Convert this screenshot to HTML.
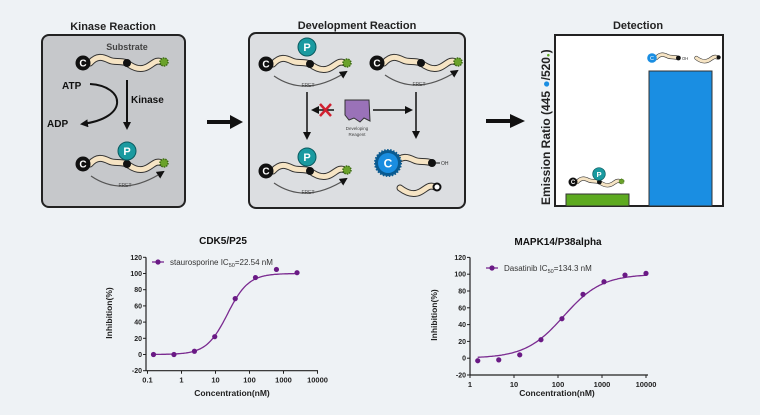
<!DOCTYPE html>
<html><head><meta charset="utf-8"><style>
html,body{margin:0;padding:0;background:#eef2f5;}
svg{display:block;font-family:"Liberation Sans",sans-serif;}
</style></head><body>
<svg id="s" width="760" height="415" viewBox="0 0 760 415" xmlns="http://www.w3.org/2000/svg">
<defs>
<marker id="ah" markerWidth="8" markerHeight="8" refX="6" refY="4" orient="auto" markerUnits="userSpaceOnUse"><path d="M0,0 L8,4 L0,8 Z" fill="#111"/></marker>
<g id="chainA">
<path d="M7,0 C14,-8 20,-6 26,-3 C32,0 36,-3 44,0" fill="none" stroke="#333" stroke-width="7" stroke-linecap="round"/>
<path d="M7,0 C14,-8 20,-6 26,-3 C32,0 36,-3 44,0" fill="none" stroke="#f6e4c4" stroke-width="5" stroke-linecap="round"/>
</g>
<g id="chainB">
<path d="M44,0 C52,6 58,7 64,4 C70,1 73,-4 79,-1" fill="none" stroke="#333" stroke-width="7" stroke-linecap="round"/>
<path d="M44,0 C52,6 58,7 64,4 C70,1 73,-4 79,-1" fill="none" stroke="#f6e4c4" stroke-width="5" stroke-linecap="round"/>
</g>
<g id="mol">
<use href="#chainA"/><use href="#chainB"/>
<circle cx="44" cy="0" r="4" fill="#111"/>
<circle cx="81" cy="-1" r="4" fill="#6aa22a" stroke="#3c6a12" stroke-width="1.5" stroke-dasharray="1.5 1"/>
<circle cx="0" cy="0" r="7.5" fill="#111"/>
<text x="0" y="3.5" font-size="10" font-weight="bold" fill="#fff" text-anchor="middle">C</text>
</g>
<g id="fret">
<path d="M8,12 Q40,34 80,8" fill="none" stroke="#555" stroke-width="1.2" marker-end="url(#ah)"/>
<text x="42" y="23" font-size="5" fill="#444" text-anchor="middle">FRET</text>
</g>
<g id="P"><circle r="9" fill="#1a9aa0" stroke="#0b5b60" stroke-width="1"/><text y="4" font-size="11" font-weight="bold" fill="#fff" text-anchor="middle">P</text></g>
</defs>

<text x="113" y="30" font-size="11" font-weight="bold" text-anchor="middle" fill="#222">Kinase Reaction</text>
<rect x="42" y="35" width="143" height="172" rx="7" fill="#c6c8cb" stroke="#222" stroke-width="2"/>
<text x="127" y="50" font-size="9" font-weight="bold" text-anchor="middle" fill="#444">Substrate</text>
<use href="#mol" x="83" y="63"/>
<text x="62" y="89" font-size="10" font-weight="bold" fill="#111">ATP</text>
<text x="47" y="127" font-size="10" font-weight="bold" fill="#111">ADP</text>
<path d="M90,84 C125,86 130,118 82,124" fill="none" stroke="#111" stroke-width="2" marker-end="url(#ah)"/>
<line x1="127" y1="80" x2="127" y2="128" stroke="#111" stroke-width="2" marker-end="url(#ah)"/>
<text x="131" y="103" font-size="10" font-weight="bold" fill="#111">Kinase</text>
<use href="#mol" x="83" y="164"/>
<use href="#fret" x="83" y="164"/>
<use href="#P" x="127" y="151"/>

<path d="M207,122 L232,122" stroke="#111" stroke-width="4"/><path d="M230,115 L243,122 L230,129Z" fill="#111"/>

<text x="357" y="29" font-size="11" font-weight="bold" text-anchor="middle" fill="#222">Development Reaction</text>
<rect x="249" y="33" width="216" height="175" rx="7" fill="#dcdee1" stroke="#222" stroke-width="2"/>
<use href="#mol" x="266" y="64"/><use href="#fret" x="266" y="64"/><use href="#P" x="307" y="47"/>
<use href="#mol" x="377" y="63"/><use href="#fret" x="377" y="63"/>
<line x1="307" y1="92" x2="307" y2="138" stroke="#111" stroke-width="1.5" marker-end="url(#ah)"/>
<line x1="416" y1="92" x2="416" y2="137" stroke="#111" stroke-width="1.5" marker-end="url(#ah)"/>
<line x1="334" y1="110" x2="313" y2="110" stroke="#111" stroke-width="1.5" marker-end="url(#ah)"/>
<path d="M320,104 L331,116 M331,104 L320,116" stroke="#d02030" stroke-width="2.5"/>
<path d="M345,100 L369,100 L370,121 L364,118 L360,122 L354,118 L349,120 L345,115Z" fill="#9a72b8" stroke="#333" stroke-width="1"/>
<text x="357" y="130" font-size="4.5" fill="#444" text-anchor="middle">Developing</text>
<text x="357" y="136" font-size="4.5" fill="#444" text-anchor="middle">Reagent</text>
<line x1="373" y1="110" x2="411" y2="110" stroke="#111" stroke-width="1.5" marker-end="url(#ah)"/>
<use href="#mol" x="266" y="171"/><use href="#fret" x="266" y="171"/><use href="#P" x="307" y="157"/>
<g transform="translate(388,163)">
<use href="#chainA"/>
<circle cx="44" cy="0" r="4" fill="#111"/><line x1="44" y1="0" x2="52" y2="0" stroke="#111"/>
<text x="53" y="2" font-size="5" fill="#333">OH</text>
<circle r="13" fill="#0a5a90" stroke="#0a5a90" stroke-width="2" stroke-dasharray="1.5 1.5"/>
<circle r="10" fill="#1a8de0"/>
<text y="4.5" font-size="12" font-weight="bold" fill="#fff" text-anchor="middle">C</text>
</g>
<g transform="translate(356,188)"><use href="#chainB"/><circle cx="81" cy="-1" r="3.5" fill="#fff" stroke="#111" stroke-width="2"/></g>

<path d="M486,121 L512,121" stroke="#111" stroke-width="4"/><path d="M510,114 L525,121 L510,128Z" fill="#111"/>

<text x="638" y="29" font-size="11" font-weight="bold" text-anchor="middle" fill="#222">Detection</text>
<rect x="555" y="35" width="168" height="171" fill="#fff" stroke="#222" stroke-width="2"/>
<rect x="566" y="194" width="63" height="12" fill="#5daa20" stroke="#333" stroke-width="1"/>
<rect x="649" y="71" width="63" height="135" fill="#1a8ee2" stroke="#333" stroke-width="1"/>
<text transform="translate(550,205) rotate(-90)" font-size="12" font-weight="bold" fill="#222">Emission Ratio (445 <tspan fill="#1a8ee2">●</tspan>/520<tspan fill="#5daa20" font-size="6">●</tspan>)</text>
<g transform="translate(573,182) scale(0.6)"><use href="#mol"/></g>
<g transform="translate(599,174) scale(0.7)"><use href="#P"/></g>
<g transform="translate(652,58) scale(0.6)">
<use href="#chainA"/><circle cx="44" cy="0" r="4" fill="#111"/><text x="50" y="3" font-size="7" fill="#333">OH</text>
<circle r="8" fill="#1a8ee2"/><text y="3.5" font-size="9" fill="#fff" text-anchor="middle">C</text>
<g transform="translate(30,0)"><use href="#chainB"/><circle cx="81" cy="-1" r="3.5" fill="#111"/></g>
</g>

<g id="c1"></g><g id="c2"></g>
</svg>
<script>
function chart(id,o){
 var g=document.getElementById(id),h='';
 var X=function(c){return o.x0+(Math.log10(c)-o.l0)*o.dec;},Y=function(v){return o.y0-v/20*o.per;};
 h+='<text x="'+o.tx+'" y="'+o.ty+'" font-size="10" font-weight="bold" text-anchor="middle" fill="#111">'+o.title+'</text>';
 var yb=Y(-20),yt=Y(120);
 h+='<line x1="'+o.ax+'" y1="'+yt+'" x2="'+o.ax+'" y2="'+yb+'" stroke="#222" stroke-width="1.2"/>';
 h+='<line x1="'+o.ax+'" y1="'+yb+'" x2="'+o.xe+'" y2="'+yb+'" stroke="#222" stroke-width="1.2"/>';
 for(var v=-20;v<=120;v+=20){var y=Y(v);h+='<line x1="'+(o.ax-3)+'" y1="'+y+'" x2="'+o.ax+'" y2="'+y+'" stroke="#222"/><text x="'+(o.ax-4)+'" y="'+(y+2.5)+'" font-size="7" font-weight="bold" text-anchor="end" fill="#222">'+v+'</text>';}
 o.xt.forEach(function(t){var x=X(t[0]);h+='<line x1="'+x+'" y1="'+yb+'" x2="'+x+'" y2="'+(yb+3)+'" stroke="#222"/><text x="'+x+'" y="'+(yb+12)+'" font-size="7.5" font-weight="bold" text-anchor="middle" fill="#222">'+t[1]+'</text>';});
 h+='<text x="'+o.xlx+'" y="'+o.xly+'" font-size="8.5" font-weight="bold" text-anchor="middle" fill="#222">Concentration(nM)</text>';
 h+='<text transform="translate('+o.ylx+','+o.yly+') rotate(-90)" font-size="8.5" font-weight="bold" text-anchor="middle" fill="#222">Inhibition(%)</text>';
 var p='';for(var i=0;i<=120;i++){var l=o.c0+(o.c1-o.c0)*i/120,c=Math.pow(10,l);var v=o.b+(100-o.b)/(1+Math.pow(o.ic/c,o.n));p+=(i?'L':'M')+X(c).toFixed(1)+','+Y(v).toFixed(1);}
 h+='<path d="'+p+'" fill="none" stroke="#7a2a90" stroke-width="1.3"/>';
 o.pts.forEach(function(q){h+='<circle cx="'+X(q[0])+'" cy="'+Y(q[1])+'" r="2.6" fill="#6a1a85"/>';});
 h+='<line x1="'+(o.lx-6)+'" y1="'+o.ly+'" x2="'+(o.lx+6)+'" y2="'+o.ly+'" stroke="#7a2a90" stroke-width="1.3"/><circle cx="'+o.lx+'" cy="'+o.ly+'" r="2.6" fill="#6a1a85"/>';
 h+='<text x="'+(o.lx+12)+'" y="'+(o.ly+3)+'" font-size="8" fill="#333">'+o.leg+'</text>';
 g.innerHTML=h;
}
chart('c1',{title:'CDK5/P25',tx:223,ty:244,ax:146,xe:318,x0:147.5,l0:-1,dec:34,y0:354.5,per:16.2,
 xt:[[0.1,'0.1'],[1,'1'],[10,'10'],[100,'100'],[1000,'1000'],[10000,'10000']],xlx:232,xly:396,ylx:112,yly:313,
 c0:Math.log10(0.15),c1:Math.log10(2500),ic:22.54,n:1.4,b:0,
 pts:[[0.15,0],[0.6,0],[2.4,4],[9.5,22],[38,69],[150,95],[620,105],[2500,101]],
 lx:158,ly:262,leg:'staurosporine IC<tspan font-size="5.5" dy="2">50</tspan><tspan dy="-2">=22.54 nM</tspan>'});
chart('c2',{title:'MAPK14/P38alpha',tx:558,ty:245,ax:470,xe:648,x0:470,l0:0,dec:44,y0:358.2,per:16.8,
 xt:[[1,'1'],[10,'10'],[100,'100'],[1000,'1000'],[10000,'10000']],xlx:557,xly:396,ylx:437,yly:315,
 c0:Math.log10(1.5),c1:4,ic:134.3,n:1.0,b:0,
 pts:[[1.5,-3],[4.5,-2],[13.5,4],[41,22],[123,47],[370,76],[1110,91],[3330,99],[10000,101]],
 lx:492,ly:268,leg:'Dasatinib IC<tspan font-size="5.5" dy="2">50</tspan><tspan dy="-2">=134.3 nM</tspan>'});
</script>
</body></html>
